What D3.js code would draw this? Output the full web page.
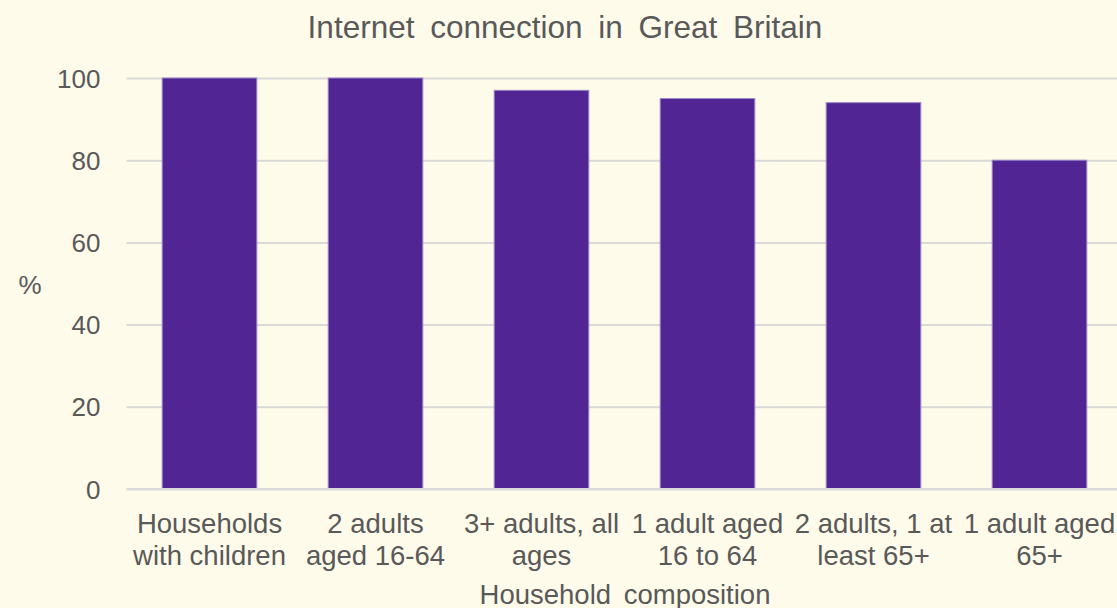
<!DOCTYPE html>
<html>
<head>
<meta charset="utf-8">
<script src="https://cdn.jsdelivr.net/npm/d3@7"></script>
<style>
  html, body { margin: 0; padding: 0; background: #FFFBEB; }
  svg { display: block; }
  text { font-family: "Liberation Sans", Arial, sans-serif; fill: #595959; }
</style>
</head>
<body>
<svg id="chart" width="1117" height="608"></svg>
<script>
// Share of households with an internet connection, by household composition
const categories = [
  "Households with children",
  "2 adults aged 16-64",
  "3+ adults, all ages",
  "1 adult aged 16 to 64",
  "2 adults, 1 at least 65+",
  "1 adult aged 65+"
];
const labelLines = [
  ["Households", "with children"],
  ["2 adults", "aged 16-64"],
  ["3+ adults, all", "ages"],
  ["1 adult aged", "16 to 64"],
  ["2 adults, 1 at", "least 65+"],
  ["1 adult aged", "65+"]
];
const values = [100, 100, 97, 95, 94, 80];
const yTicks = [0, 20, 40, 60, 80, 100];

const title = "Internet connection in Great Britain";
const xTitle = "Household composition";
const yTitle = "%";

const svg = d3.select("#chart");
const W = 1117, H = 608;
const plot = { left: 126.5, right: 1122.5, top: 78, bottom: 489 };

svg.append("rect").attr("width", W).attr("height", H).attr("fill", "#FFFBEB");

const x = d3.scaleBand()
  .domain(categories)
  .range([plot.left, plot.right])
  .paddingInner(0.43)
  .paddingOuter(0.215);

const y = d3.scaleLinear()
  .domain([0, 100])
  .range([plot.bottom, plot.top]);

// horizontal gridlines and y tick labels
const yAxis = d3.axisLeft(y)
  .tickValues(yTicks)
  .tickSize(-(W - plot.left))
  .tickPadding(26)
  .tickFormat(d3.format("d"));

const gy = svg.append("g")
  .attr("transform", `translate(${plot.left},0)`)
  .call(yAxis);
gy.select(".domain").remove();
gy.selectAll(".tick line").attr("stroke", "#D9D9D9").attr("stroke-width", 2);
gy.selectAll(".tick text")
  .attr("font-size", 26)
  .attr("fill", "#595959")
  .attr("font-family", "Liberation Sans, Arial, sans-serif")
  .attr("dy", "0.35em");

// bars
svg.append("g").selectAll("rect")
  .data(values)
  .join("rect")
  .attr("x", (d, i) => x(categories[i]))
  .attr("y", d => y(d))
  .attr("width", x.bandwidth())
  .attr("height", d => y(0) - y(d))
  .attr("fill", "#512694")
  .attr("stroke", "#9A86C6")
  .attr("stroke-width", 1);

// category axis
const xAxis = d3.axisBottom(x).tickSize(0).tickFormat(() => "");
const gx = svg.append("g")
  .attr("transform", `translate(0,${plot.bottom})`)
  .call(xAxis);
gx.select(".domain").attr("stroke", "#D9D9D9").attr("stroke-width", 2)
  .attr("d", `M${plot.left},0H${W}`);

gx.selectAll(".tick").each(function(d, i) {
  const t = d3.select(this).append("text")
    .attr("text-anchor", "middle")
    .attr("font-size", 27.5)
    .attr("fill", "#595959")
    .attr("font-family", "Liberation Sans, Arial, sans-serif");
  labelLines[i].forEach((line, k) => {
    t.append("tspan").attr("x", 0).attr("y", 44 + k * 32).text(line);
  });
});

// titles
svg.append("text")
  .attr("x", 565).attr("y", 38)
  .attr("text-anchor", "middle")
  .attr("font-size", 31.5)
  .attr("word-spacing", 7)
  .text(title);

svg.append("text")
  .attr("x", 625).attr("y", 604)
  .attr("text-anchor", "middle")
  .attr("font-size", 27.5)
  .attr("word-spacing", 5)
  .text(xTitle);

svg.append("text")
  .attr("x", 30).attr("y", 294)
  .attr("text-anchor", "middle")
  .attr("font-size", 26)
  .text(yTitle);
</script>
</body>
</html>
